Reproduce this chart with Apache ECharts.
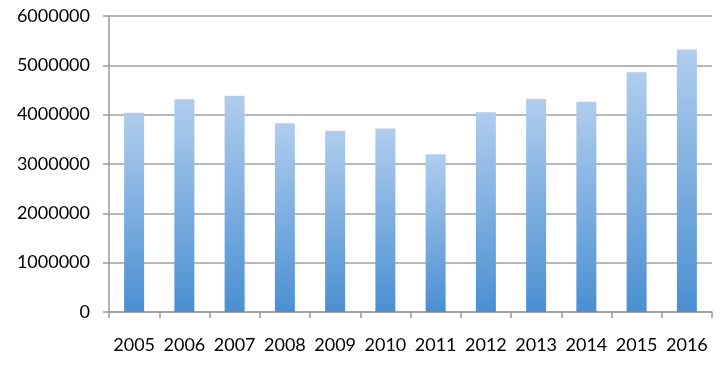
<!DOCTYPE html>
<html>
<head>
<meta charset="utf-8">
<script src="https://cdn.jsdelivr.net/npm/echarts@6/dist/echarts.min.js"></script>
<style>html,body{margin:0;padding:0;background:#fff;}#c{width:728px;height:366px;}</style>
</head>
<body>
<div id="c"></div>
<script>
const categories = ['2005','2006','2007','2008','2009','2010','2011','2012','2013','2014','2015','2016'];
const values = [4040000, 4310000, 4385000, 3826000, 3676000, 3720000, 3200000, 4050000, 4320000, 4260000, 4860000, 5320000];
const yTicks = { min: 0, max: 6000000, interval: 1000000 };

const chart = echarts.init(document.getElementById('c'), null, { renderer: 'canvas' });
chart.setOption({
  animation: false,
  backgroundColor: '#ffffff',
  grid: { left: 109, right: 16, top: 16, bottom: 54, containLabel: false },
  xAxis: {
    type: 'category',
    data: categories,
    boundaryGap: true,
    axisLine: { show: true, lineStyle: { color: '#9a9a9a', width: 1.5 } },
    axisTick: { show: true, alignWithLabel: false, interval: 0, length: 6, lineStyle: { color: '#9a9a9a', width: 1.5 } },
    axisLabel: { color: '#000', fontFamily: 'Lato', fontSize: 18, margin: 24, interval: 0 },
    splitLine: { show: false }
  },
  yAxis: {
    type: 'value',
    min: yTicks.min, max: yTicks.max, interval: yTicks.interval,
    axisLine: { show: true, lineStyle: { color: '#9a9a9a', width: 1.5 } },
    axisTick: { show: true, length: 6, lineStyle: { color: '#9a9a9a', width: 1.5 } },
    axisLabel: { color: '#000', fontFamily: 'Lato', fontSize: 18, margin: 19, padding: [4, 0, 0, 0], formatter: function (v) { return String(v); } },
    splitLine: { show: true, lineStyle: { color: '#a0a0a0', width: 1.5 } }
  },
  series: [{
    type: 'bar',
    data: values,
    barWidth: 20,
    itemStyle: {
      color: new echarts.graphic.LinearGradient(0, 0, 0, 1, [
        { offset: 0, color: '#b0cdee' },
        { offset: 1, color: '#4a8fd2' }
      ], false)
    }
  }]
});
</script>
</body>
</html>
